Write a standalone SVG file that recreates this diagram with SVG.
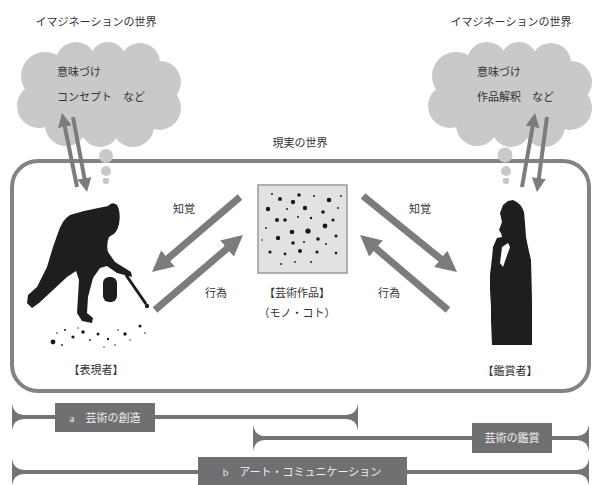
<svg xmlns="http://www.w3.org/2000/svg" width="594" height="485" viewBox="0 0 594 485">
  <style>
    .t { font-family: "Liberation Serif", "Noto Sans CJK JP", serif; font-size: 11px; fill: #333; }
    .lbl { font-family: "Liberation Serif", "Noto Sans CJK JP", serif; font-size: 11px; fill: #eeeeee; }
    .cloud { fill: #c9c9c9; }
    .arrow { stroke: #7c7c7c; stroke-width: 7; fill: none; marker-end: url(#head); }
    .thin { stroke: #7c7c7c; stroke-width: 4; fill: none; marker-end: url(#headThin); }
    .bar { stroke: #747477; stroke-width: 4; fill: none; }
    .box { fill: #707073; }
    .end { fill: #747477; }
    .fig { fill: #1e1e1e; }
    .spot { fill: #1a1a1a; }
  </style>
  <defs>
    <marker id="head" viewBox="0 0 10 10" refX="3" refY="5" markerWidth="3" markerHeight="3" orient="auto" markerUnits="strokeWidth">
      <path d="M0,0 L10,5 L0,10 z" fill="#7c7c7c"/>
    </marker>
    <marker id="headThin" viewBox="0 0 10 10" refX="3" refY="5" markerWidth="3.5" markerHeight="3.5" orient="auto" markerUnits="strokeWidth">
      <path d="M0,0 L10,5 L0,10 z" fill="#7c7c7c"/>
    </marker>
    <!-- flared bar end, pointing right; mirrored for right ends -->
    <path id="capL" d="M0,-13 Q2,-2 12,-2 L12,2 Q2,2 0,13 Z"/>
    <g id="cloudShape">
      <ellipse cx="100" cy="95" rx="62" ry="36"/>
      <circle cx="45" cy="76" r="24"/>
      <circle cx="76" cy="62" r="20"/>
      <circle cx="108" cy="60" r="18"/>
      <circle cx="140" cy="63" r="20"/>
      <circle cx="160" cy="82" r="21"/>
      <circle cx="159" cy="108" r="22"/>
      <circle cx="133" cy="126" r="21"/>
      <circle cx="100" cy="128" r="19"/>
      <circle cx="66" cy="125" r="21"/>
      <circle cx="39" cy="106" r="22"/>
    </g>
  </defs>

  <!-- imagination worlds -->
  <g id="imagination-left">
    <text class="t" x="96" y="26" text-anchor="middle" font-size="11.5">イマジネーションの世界</text>
    <use href="#cloudShape" class="cloud"/>
    <text class="t" x="57" y="76">意味づけ</text>
    <text class="t" x="57" y="101">コンセプト　など</text>
  </g>
  <g id="imagination-right">
    <text class="t" x="511" y="26" text-anchor="middle" font-size="11.5">イマジネーションの世界</text>
    <use href="#cloudShape" class="cloud" transform="translate(411,0)"/>
    <text class="t" x="477" y="76">意味づけ</text>
    <text class="t" x="477" y="101">作品解釈　など</text>
  </g>

  <!-- real world frame -->
  <g id="real-world">
    <rect x="12" y="161" width="577" height="230" rx="26" ry="26" fill="none" stroke="#838383" stroke-width="4"/>
    <text class="t" x="300" y="147" text-anchor="middle">現実の世界</text>
  </g>

  <!-- thought bubbles -->
  <g id="bubbles" class="cloud">
    <circle cx="106" cy="156" r="7"/>
    <circle cx="106" cy="171" r="5"/>
    <circle cx="106" cy="181" r="3.2"/>
    <circle cx="505" cy="155" r="7.5"/>
    <circle cx="506" cy="171" r="5"/>
    <circle cx="506" cy="181" r="3.2"/>
  </g>

  <!-- artist -->
  <g id="artist">
    <path class="fig" d="M108,206 Q112,201 117,205 Q121,212 119,224 Q117,233 112,235 L109,237
      Q106,244 108,252 L115,262 L131,272 L132,277 L117,273 L107,266 L100,268
      L93,278 L88,297 L87,313 L93,318 L92,323 L82,321 L77,313 L78,297 L79,280 L76,271
      L67,277 L53,290 L39,303 L32,308 L27,303 L28,295 L37,287 L47,267 L53,247 L58,233
      Q62,220 70,215 L84,211 Z"/>
    <rect class="fig" x="103" y="277" width="14" height="25" rx="6"/>
    <line x1="126" y1="275" x2="146" y2="304" stroke="#1e1e1e" stroke-width="3"/>
    <circle class="fig" cx="147" cy="306" r="2.2"/>
    <g class="spot">
      <circle cx="53" cy="342" r="2.4"/>
      <circle cx="73" cy="337" r="1.6"/>
      <circle cx="83" cy="332" r="1.8"/>
      <circle cx="98" cy="334" r="1.5"/>
      <circle cx="125" cy="334" r="1.7"/>
      <circle cx="140" cy="326" r="1.5"/>
      <circle cx="108" cy="339" r="1.2"/>
      <circle cx="65" cy="330" r="1"/>
      <circle cx="57" cy="333" r="0.8"/>
      <circle cx="90" cy="340" r="0.9"/>
      <circle cx="115" cy="345" r="0.8"/>
      <circle cx="104" cy="347" r="0.7"/>
      <circle cx="145" cy="333" r="0.8"/>
      <circle cx="118" cy="330" r="0.8"/>
      <circle cx="62" cy="345" r="0.9"/>
      <circle cx="78" cy="328" r="0.7"/>
      <circle cx="130" cy="340" r="0.7"/>
    </g>
    <text class="t" x="96" y="374" text-anchor="middle">【表現者】</text>
  </g>

  <!-- artwork -->
  <g id="artwork">
    <rect x="258" y="185" width="89" height="88" fill="#e2e2e2" stroke="#9a9a9a" stroke-width="1.5"/>
    <g class="spot">
      <circle cx="268" cy="209" r="2.2"/>
      <circle cx="280" cy="199" r="2"/>
      <circle cx="293" cy="202" r="2.2"/>
      <circle cx="299" cy="195" r="1.8"/>
      <circle cx="305" cy="208" r="2.2"/>
      <circle cx="329" cy="200" r="2.3"/>
      <circle cx="323" cy="212" r="1.8"/>
      <circle cx="333" cy="220" r="1.6"/>
      <circle cx="277" cy="220" r="2"/>
      <circle cx="285" cy="220" r="1.8"/>
      <circle cx="292" cy="232" r="2.3"/>
      <circle cx="308" cy="231" r="2.6"/>
      <circle cx="325" cy="226" r="2.4"/>
      <circle cx="318" cy="239" r="1.8"/>
      <circle cx="278" cy="238" r="2.2"/>
      <circle cx="293" cy="243" r="1.8"/>
      <circle cx="300" cy="251" r="2"/>
      <circle cx="270" cy="252" r="1.6"/>
      <circle cx="285" cy="254" r="1.4"/>
      <circle cx="317" cy="252" r="1.6"/>
      <circle cx="336" cy="236" r="1.5"/>
      <circle cx="336" cy="253" r="1.3"/>
      <circle cx="311" cy="218" r="1.2"/>
      <circle cx="272" cy="194" r="1"/>
      <circle cx="287" cy="209" r="1"/>
      <circle cx="298" cy="217" r="1"/>
      <circle cx="314" cy="196" r="1"/>
      <circle cx="338" cy="208" r="1"/>
      <circle cx="304" cy="242" r="1"/>
      <circle cx="326" cy="244" r="1"/>
      <circle cx="311" cy="262" r="1"/>
      <circle cx="281" cy="264" r="0.9"/>
      <circle cx="295" cy="262" r="0.9"/>
      <circle cx="266" cy="228" r="0.9"/>
      <circle cx="341" cy="196" r="0.9"/>
      <circle cx="262" cy="240" r="0.8"/>
    </g>
    <text class="t" x="297" y="297" text-anchor="middle">【芸術作品】</text>
    <text class="t" x="297" y="317" text-anchor="middle">（モノ・コト）</text>
  </g>

  <!-- viewer -->
  <g id="viewer">
    <path class="fig" d="M508,201 L513,200 Q521,203 524,212 L525,223 L526,237 L528,247 L531,260
      L532,300 L532,345 L492,345 L491,320 L491,307 L490,290 L490,275 L492,258 L493,247
      L497,238 L502,237 L501,233 L499,230 L502,222 L500,213 L503,205 Z"/>
    <path d="M502,247 L508,243 L510,247 L503,267 L500,263 Z" fill="#ffffff"/>
    <text class="t" x="510" y="375" text-anchor="middle">【鑑賞者】</text>
  </g>

  <!-- labels on connectors -->
  <g id="arrow-labels">
    <text class="t" x="184" y="213" text-anchor="middle">知覚</text>
    <text class="t" x="216" y="297" text-anchor="middle">行為</text>
    <text class="t" x="420" y="213" text-anchor="middle">知覚</text>
    <text class="t" x="389" y="297" text-anchor="middle">行為</text>
  </g>

  <!-- connectors -->
  <g id="connectors">
    <line class="arrow" x1="240" y1="197" x2="163.2" y2="262.5"/>
    <line class="arrow" x1="155" y1="310" x2="231.8" y2="244.5"/>
    <line class="arrow" x1="363" y1="196" x2="445.6" y2="262.8"/>
    <line class="arrow" x1="448" y1="310" x2="371.2" y2="244.5"/>
    <line class="thin" x1="77" y1="187" x2="64" y2="122.6"/>
    <line class="thin" x1="73" y1="117" x2="85.2" y2="182.4"/>
    <line class="thin" x1="522" y1="187" x2="533.3" y2="122.7"/>
    <line class="thin" x1="547" y1="117" x2="538.3" y2="182.3"/>
  </g>

  <!-- spans -->
  <g id="span-a">
    <line class="bar" x1="14" y1="417" x2="356" y2="417"/>
    <use href="#capL" class="end" transform="translate(12,417)"/>
    <use href="#capL" class="end" transform="translate(358,417) scale(-1,1)"/>
    <rect class="box" x="55" y="403" width="100" height="29"/>
    <text class="lbl" x="105" y="422" text-anchor="middle">a　芸術の創造</text>
  </g>
  <g id="span-appreciation">
    <line class="bar" x1="255" y1="438" x2="586" y2="438"/>
    <use href="#capL" class="end" transform="translate(253,438)"/>
    <use href="#capL" class="end" transform="translate(589,438) scale(-1,1)"/>
    <rect class="box" x="472" y="423" width="80" height="30"/>
    <text class="lbl" x="512" y="442" text-anchor="middle">芸術の鑑賞</text>
  </g>
  <g id="span-b">
    <line class="bar" x1="14" y1="472" x2="586" y2="472"/>
    <use href="#capL" class="end" transform="translate(12,472)"/>
    <use href="#capL" class="end" transform="translate(589,472) scale(-1,1)"/>
    <rect class="box" x="198" y="457" width="209" height="30"/>
    <text class="lbl" x="302" y="476" text-anchor="middle">b　アート・コミュニケーション</text>
  </g>
</svg>
